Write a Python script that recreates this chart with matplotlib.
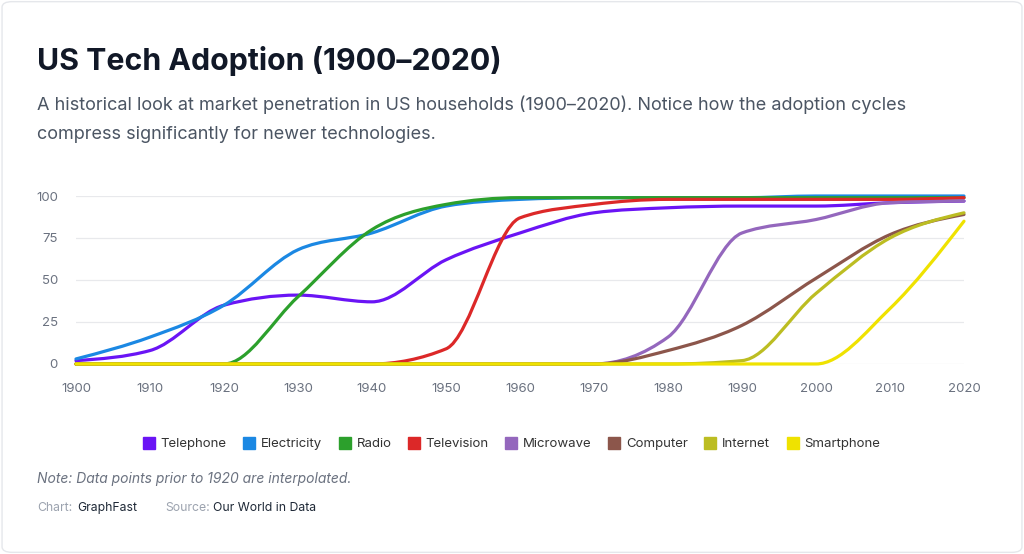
import matplotlib
matplotlib.use("Agg")
import matplotlib.pyplot as plt
import numpy as np
from matplotlib.path import Path
from matplotlib.patches import PathPatch, FancyBboxPatch
from matplotlib.lines import Line2D

plt.rcParams['font.family'] = ['Inter', 'DejaVu Sans']

years = [1900, 1910, 1920, 1930, 1940, 1950, 1960, 1970, 1980, 1990, 2000, 2010, 2020]

telephone = [2, 8, 35, 41, 37, 62, 78, 90, 93, 94, 94, 96, 97]
electricity = [3, 16, 35, 68, 78, 94, 98, 99, 99, 99, 100, 100, 100]
radio = [0, 0, 0, 40, 80, 95, 99, 99, 99, 99, 99, 99, 99]
television = [0, 0, 0, 0, 0, 9, 87, 95, 98, 98, 98, 98, 99]
microwave = [0, 0, 0, 0, 0, 0, 0, 0, 16, 78, 86, 96, 97]
computer = [0, 0, 0, 0, 0, 0, 0, 0, 8, 23, 51, 77, 89]
internet = [0, 0, 0, 0, 0, 0, 0, 0, 0, 2, 42, 75, 90]
smartphone = [0, 0, 0, 0, 0, 0, 0, 0, 0, 0, 0, 33, 85]

series_names = ["Telephone", "Electricity", "Radio", "Television",
                "Microwave", "Computer", "Internet", "Smartphone"]
series_values = [telephone, electricity, radio, television,
                 microwave, computer, internet, smartphone]
colors = ["#6a14f5", "#1b88e3", "#2ca02c", "#dc2828",
          "#9467bd", "#8c564b", "#bcbd22", "#efe200"]


def monotone_path(x, y):
    """Cubic Bezier path through the points, same tangents as d3 curveMonotoneX."""
    x = np.asarray(x, float)
    y = np.asarray(y, float)
    n = len(x)
    t = np.zeros(n)
    sgn = lambda v: -1.0 if v < 0 else 1.0
    for i in range(1, n - 1):
        h0, h1 = x[i] - x[i - 1], x[i + 1] - x[i]
        s0, s1 = (y[i] - y[i - 1]) / h0, (y[i + 1] - y[i]) / h1
        p = (s0 * h1 + s1 * h0) / (h0 + h1)
        t[i] = (sgn(s0) + sgn(s1)) * min(abs(s0), abs(s1), 0.5 * abs(p))
    t[0] = (3 * (y[1] - y[0]) / (x[1] - x[0]) - t[1]) / 2
    t[-1] = (3 * (y[-1] - y[-2]) / (x[-1] - x[-2]) - t[-2]) / 2
    verts = [(x[0], y[0])]
    codes = [Path.MOVETO]
    for i in range(n - 1):
        dx = (x[i + 1] - x[i]) / 3
        verts += [(x[i] + dx, y[i] + dx * t[i]),
                  (x[i + 1] - dx, y[i + 1] - dx * t[i + 1]),
                  (x[i + 1], y[i + 1])]
        codes += [Path.CURVE4] * 3
    return Path(verts, codes)


fig = plt.figure(figsize=(10.24, 5.54), dpi=100)
fig.patch.set_facecolor("white")
fig.patches.append(FancyBboxPatch((0.002, 0.003), 0.996, 0.994,
                                  boxstyle="round,pad=0,rounding_size=0.01",
                                  transform=fig.transFigure, facecolor="none",
                                  edgecolor="#e5e7eb", linewidth=1))

ax = fig.add_axes([0.0742, 0.343, 0.8672, 0.3032])
ax.set_xlim(1900, 2020)
ax.set_ylim(0, 100)

for name, vals, c in zip(series_names, series_values, colors):
    patch = PathPatch(monotone_path(years, vals), facecolor="none", edgecolor=c,
                      linewidth=2.3, capstyle="round", joinstyle="round", clip_on=False)
    ax.add_patch(patch)

ax.set_yticks([0, 25, 50, 75, 100])
ax.set_xticks(range(1900, 2021, 10))
ax.grid(axis="y", color="#e8e9ec", linewidth=0.9)
ax.set_axisbelow(True)
for s in ax.spines.values():
    s.set_visible(False)
ax.tick_params(length=0, labelsize=9.5, labelcolor="#6b7280")
ax.tick_params(axis="y", pad=13)
ax.tick_params(axis="x", pad=14)

handles = [Line2D([], [], linestyle="none", marker="s", markersize=9,
                  markerfacecolor=c, markeredgecolor=c) for c in colors]
fig.legend(handles, series_names, loc="center", bbox_to_anchor=(0.5, 1 - 444 / 554),
           ncol=8, frameon=False, fontsize=9.5, handlelength=0.8, handletextpad=0.5,
           columnspacing=1.3, labelcolor="#333333")

fig.text(37 / 1024, 1 - 70 / 554, "US Tech Adoption (1900–2020)", fontsize=21.8,
         fontweight="bold", color="#111827", va="baseline")
fig.text(37 / 1024, 1 - 110 / 554,
         "A historical look at market penetration in US households (1900–2020). "
         "Notice how the adoption cycles", fontsize=13, color="#4b5563", va="baseline")
fig.text(37 / 1024, 1 - 139 / 554, "compress significantly for newer technologies.",
         fontsize=13, color="#4b5563", va="baseline")
fig.text(37 / 1024, 1 - 483 / 554, "Note: Data points prior to 1920 are interpolated.",
         fontsize=10, style="italic", color="#6b7280", va="baseline")
fig.text(37 / 1024, 1 - 511 / 554, "Chart:", fontsize=8.8, color="#9ca3af", va="baseline")
fig.text(77 / 1024, 1 - 511 / 554, "GraphFast", fontsize=8.8, color="#1f2937", va="baseline")
fig.text(165 / 1024, 1 - 511 / 554, "Source:", fontsize=8.8, color="#9ca3af", va="baseline")
fig.text(213 / 1024, 1 - 511 / 554, "Our World in Data", fontsize=8.8, color="#1f2937",
         va="baseline")

fig.savefig("out.png", dpi=100)
